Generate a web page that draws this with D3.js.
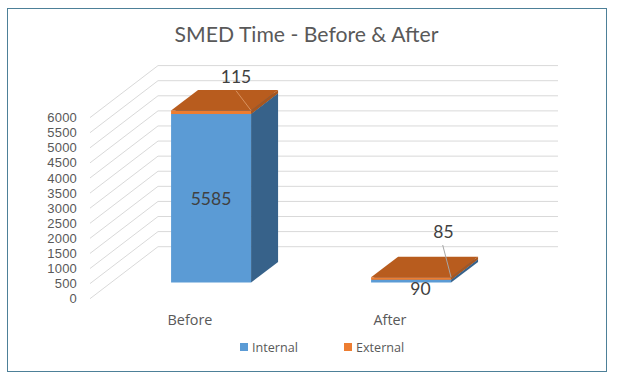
<!DOCTYPE html>
<html>
<head>
<meta charset="utf-8">
<script src="https://cdn.jsdelivr.net/npm/d3@7/dist/d3.min.js"></script>
<style>
  html, body { margin: 0; padding: 0; background: #fff; }
  svg { display: block; }
  text { fill: #595959; }
</style>
</head>
<body>
<script>
// chart values
var categories = ['Before', 'After'];
var seriesNames = ['Internal', 'External'];
var internal = [5585, 90];
var external = [115, 85];
var yTicks = [0, 500, 1000, 1500, 2000, 2500, 3000, 3500, 4000, 4500, 5000, 5500, 6000];

var w = 617, h = 384;

var svg = d3.select('body').append('svg')
    .attr('width', w)
    .attr('height', h);

// chart frame
svg.append('rect')
    .attr('x', 7.5).attr('y', 8.5)
    .attr('width', 599).attr('height', 363)
    .attr('fill', '#fff')
    .attr('stroke', '#4d8098')
    .attr('stroke-width', 1);

svg.append('text')
    .attr('x', 306.5).attr('y', 42)
    .attr('text-anchor', 'middle')
    .style('font-family', 'Lato')
    .style('font-size', '21.2px')
    .text('SMED Time - Before & After');

// scales for the front plane of the 3d box
var xScale = d3.scaleBand().domain(categories).range([90, 490]).paddingInner(0).paddingOuter(0);
var yScale = d3.scaleLinear().domain([0, 6000]).range([298.7, 117.6]);

// depth goes up and right: 0 = front of floor, 1 = back wall
var depthX = d3.scaleLinear().domain([0, 1]).range([0, 68]);
var depthY = d3.scaleLinear().domain([0, 1]).range([0, -52]);

var barWidth = 80;
var depthFront = 0.31, depthBack = 0.707;

function pt(x, value, depth) {
  return [x + depthX(depth), yScale(value) + depthY(depth)];
}

// gridlines, side wall and back wall
var grid = svg.append('g')
    .attr('fill', 'none')
    .attr('stroke', '#d9d9d9')
    .attr('stroke-width', 1);

yTicks.forEach(function(t) {
  grid.append('path')
      .attr('d', d3.line()([pt(90, t, 0), pt(90, t, 1), pt(490, t, 1)]));
});

// y axis labels
svg.append('g').selectAll('text')
    .data(yTicks)
  .enter().append('text')
    .attr('x', 77)
    .attr('y', function(d) { return yScale(d); })
    .attr('dy', '0.35em')
    .attr('text-anchor', 'end')
    .style('font-family', 'Liberation Sans')
    .style('font-size', '13px')
    .style('letter-spacing', '0.2px')
    .text(function(d) { return d; });

// draw one stacked segment as three faces
function drawBox(left, from, to, front, side, top) {
  var right = left + barWidth;
  var poly = function(points, fill) {
    svg.append('polygon')
        .attr('points', points.map(function(p) { return p.join(','); }).join(' '))
        .attr('fill', fill);
  };
  poly([pt(left, from, depthFront), pt(right, from, depthFront), pt(right, to, depthFront), pt(left, to, depthFront)], front);
  poly([pt(right, from, depthFront), pt(right, from, depthBack), pt(right, to, depthBack), pt(right, to, depthFront)], side);
  poly([pt(left, to, depthFront), pt(right, to, depthFront), pt(right, to, depthBack), pt(left, to, depthBack)], top);
}

categories.forEach(function(c, i) {
  var left = xScale(c) + (xScale.bandwidth() - barWidth) / 2;
  drawBox(left, 0, internal[i], '#5b9bd5', '#37628a', '#37628a');
  drawBox(left, internal[i], internal[i] + external[i], '#ed7d31', '#a9561d', '#b85c1e');
});

// category labels
svg.append('g').selectAll('text')
    .data(categories)
  .enter().append('text')
    .attr('x', function(d) { return xScale(d) + xScale.bandwidth() / 2; })
    .attr('y', 325)
    .attr('text-anchor', 'middle')
    .style('font-family', 'Open Sans')
    .style('font-size', '14.4px')
    .text(function(d) { return d; });

// data labels, leader lines for the External values
var labelStyle = function(sel) {
  sel.attr('text-anchor', 'middle')
     .style('font-family', 'Lato')
     .style('font-size', '17.5px')
     .style('fill', '#404040');
};

var left0 = xScale(categories[0]) + (xScale.bandwidth() - barWidth) / 2;
var left1 = xScale(categories[1]) + (xScale.bandwidth() - barWidth) / 2;
var top0 = internal[0] + external[0];
var top1 = internal[1] + external[1];

svg.append('line')
    .attr('x1', pt(left0 + barWidth, top0, depthFront)[0]).attr('y1', pt(left0 + barWidth, top0, depthFront)[1])
    .attr('x2', 236).attr('y2', 90.7)
    .attr('stroke', '#d9925f').attr('stroke-width', 1);

svg.append('line')
    .attr('x1', pt(left1 + barWidth, top1, depthFront)[0]).attr('y1', pt(left1 + barWidth, top1, depthFront)[1])
    .attr('x2', 442.7).attr('y2', 245)
    .attr('stroke', '#a6a6a6').attr('stroke-width', 1);

svg.append('text').attr('x', 236).attr('y', 83).call(labelStyle).text(external[0]);
svg.append('text').attr('x', 211).attr('y', 205).call(labelStyle).text(internal[0]);
svg.append('text').attr('x', 443.5).attr('y', 238).call(labelStyle).text(external[1]);
svg.append('text').attr('x', 420.5).attr('y', 295).call(labelStyle).text(internal[1]);

// legend
var legendColors = d3.scaleOrdinal().domain(seriesNames).range(['#5b9bd5', '#ed7d31']);
var legendX = d3.scalePoint().domain(seriesNames).range([240, 344]);

var legend = svg.append('g').selectAll('g')
    .data(seriesNames)
  .enter().append('g')
    .attr('transform', function(d) { return 'translate(' + legendX(d) + ',343)'; });

legend.append('rect')
    .attr('width', 8).attr('height', 8)
    .attr('fill', function(d) { return legendColors(d); });

legend.append('text')
    .attr('x', 12).attr('y', 8.5)
    .style('font-family', 'Open Sans')
    .style('font-size', '12.6px')
    .text(function(d) { return d; });
</script>
</body>
</html>
